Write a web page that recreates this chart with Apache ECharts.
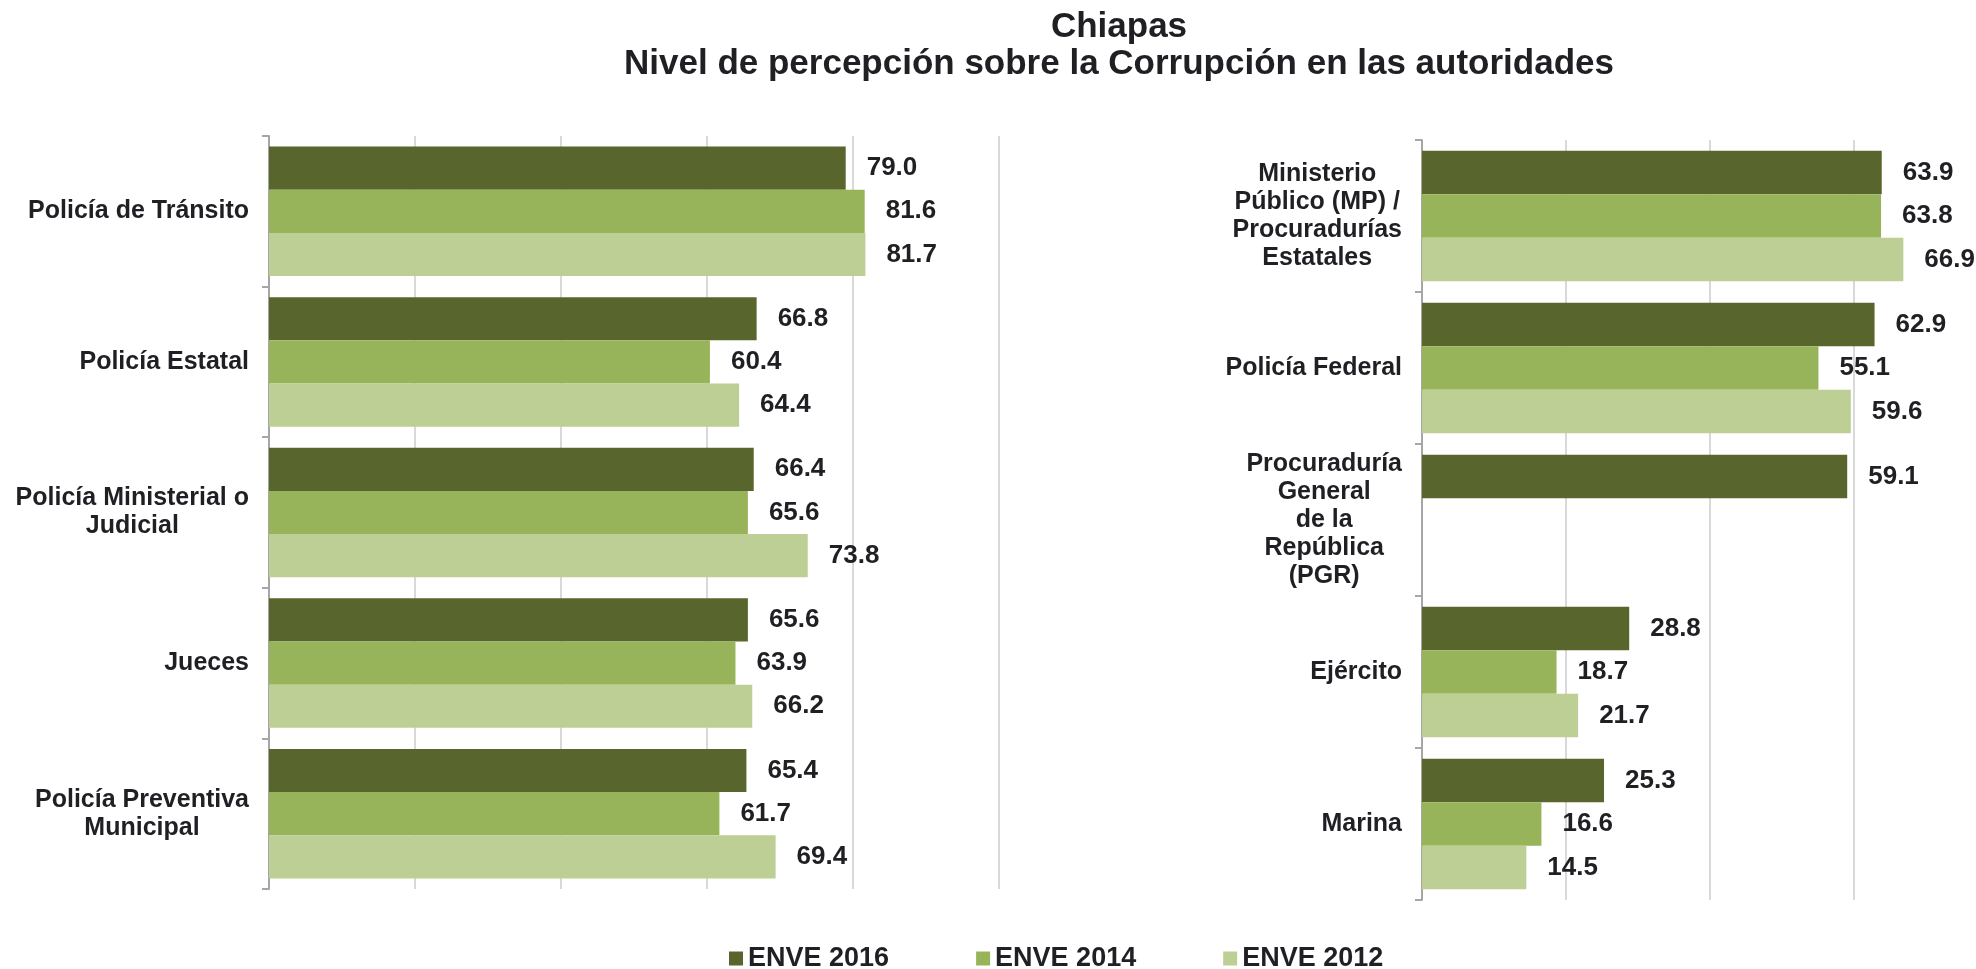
<!DOCTYPE html>
<html>
<head>
<meta charset="utf-8">
<script src="https://cdn.jsdelivr.net/npm/echarts@6/dist/echarts.min.js"></script>
<style>
html,body{margin:0;padding:0;background:#fff;}
#chart{width:1976px;height:969px;}
</style>
</head>
<body>
<div id="chart"></div>
<script>
var titleMain = 'Chiapas';
var titleSub = 'Nivel de percepción sobre la Corrupción en las autoridades';
var seriesNames = ['ENVE 2016', 'ENVE 2014', 'ENVE 2012'];

var categoriesLeft = ['Policía de Tránsito', 'Policía Estatal', 'Policía Ministerial o\nJudicial', 'Jueces', 'Policía Preventiva\nMunicipal'];
var left2016 = [79.0, 66.8, 66.4, 65.6, 65.4];
var left2014 = [81.6, 60.4, 65.6, 63.9, 61.7];
var left2012 = [81.7, 64.4, 73.8, 66.2, 69.4];

var categoriesRight = ['Ministerio\nPúblico (MP) /\nProcuradurías\nEstatales', 'Policía Federal', 'Procuraduría\nGeneral\nde la\nRepública\n(PGR)', 'Ejército', 'Marina'];
var right2016 = [63.9, 62.9, 59.1, 28.8, 25.3];
var right2014 = [63.8, 55.1, null, 18.7, 16.6];
var right2012 = [66.9, 59.6, null, 21.7, 14.5];

var colors = ['#58662D', '#98B45B', '#BDCF94'];
var FONT = '"Liberation Sans", Arial, sans-serif';
var TEXT = '#1f1f24';

function catLabel(v) {
  return v.split('\n').map(function (s) { return '{c|' + s + '}'; }).join('\n');
}

function makeYAxis(gridIndex, cats) {
  return {
    type: 'category', gridIndex: gridIndex, data: cats, inverse: true,
    axisLine: {show: true, lineStyle: {color: '#A6A6A6', width: 2}},
    axisTick: {show: true, length: 7, lineStyle: {color: '#A6A6A6', width: 2}},
    splitLine: {show: false},
    axisLabel: {
      margin: 20, formatter: catLabel,
      rich: {c: {align: 'center', fontSize: 25, fontWeight: 'bold', fontFamily: FONT, color: TEXT, lineHeight: 28}}
    }
  };
}
function makeXAxis(gridIndex, max) {
  return {
    type: 'value', gridIndex: gridIndex, min: 0, max: max, interval: 20,
    axisLine: {show: false}, axisTick: {show: false}, axisLabel: {show: false},
    splitLine: {show: true, showMaxLine: gridIndex === 0, lineStyle: {color: '#D9D9D9', width: 2}}
  };
}
function makeSeries(name, data, idx, gridIdx) {
  return {
    type: 'bar', name: name, data: data, xAxisIndex: gridIdx, yAxisIndex: gridIdx,
    barGap: '0%', barCategoryGap: '14%',
    itemStyle: {color: colors[idx]},
    label: {
      show: true, position: 'right', distance: 21,
      fontSize: 26, fontWeight: 'bold', fontFamily: FONT, color: TEXT,
      formatter: function (p) { return p.value == null ? '' : Number(p.value).toFixed(1); }
    },
    emphasis: {disabled: true}
  };
}

var chart = echarts.init(document.getElementById('chart'), null, {renderer: 'canvas'});
chart.setOption({
  animation: false,
  backgroundColor: '#ffffff',
  title: {
    text: titleMain + '\n' + titleSub,
    left: 1114, top: 4, textAlign: 'center',
    textStyle: {fontSize: 35, fontWeight: 'bold', fontFamily: FONT, color: TEXT, lineHeight: 37}
  },
  legend: {
    data: seriesNames, left: 724, top: 940, itemWidth: 14, itemHeight: 14, itemGap: 87,
    icon: 'rect',
    textStyle: {fontSize: 27, fontWeight: 'bold', fontFamily: FONT, color: TEXT}
  },
  grid: [
    {left: 269, top: 136, width: 730, height: 753, containLabel: false},
    {left: 1422, top: 140, right: 0, height: 760, containLabel: false}
  ],
  xAxis: [makeXAxis(0, 100), makeXAxis(1, 77)],
  yAxis: [makeYAxis(0, categoriesLeft), makeYAxis(1, categoriesRight)],
  series: [
    makeSeries(seriesNames[0], left2016, 0, 0),
    makeSeries(seriesNames[1], left2014, 1, 0),
    makeSeries(seriesNames[2], left2012, 2, 0),
    makeSeries(seriesNames[0], right2016, 0, 1),
    makeSeries(seriesNames[1], right2014, 1, 1),
    makeSeries(seriesNames[2], right2012, 2, 1)
  ]
});
</script>
</body>
</html>
